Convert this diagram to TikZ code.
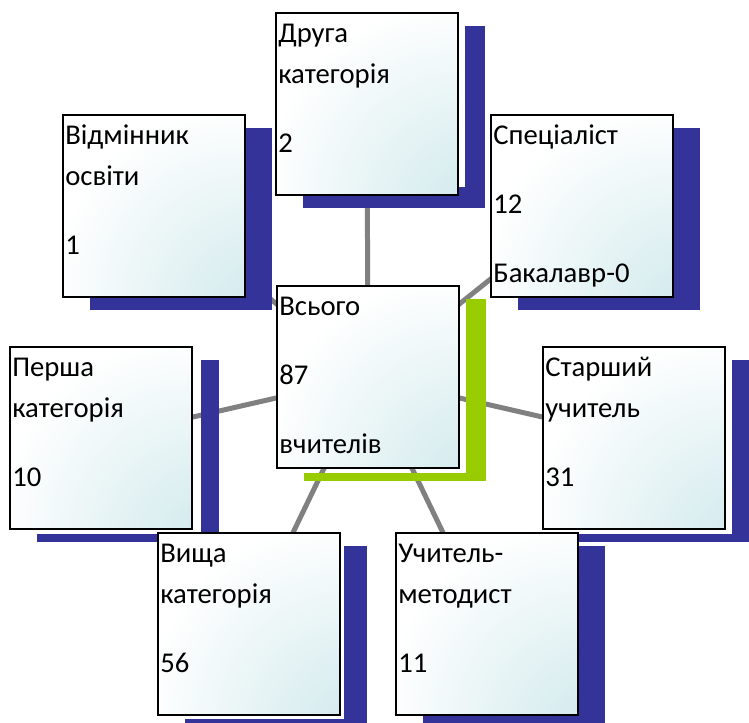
\documentclass[tikz,border=0pt]{standalone}
\usepackage{fontspec}
\setmainfont{Carlito}
\usetikzlibrary{calc}
\definecolor{shadowblue}{RGB}{51,51,153}
\definecolor{shadowgreen}{RGB}{153,204,0}
\definecolor{cardteal}{RGB}{186,223,227}
\definecolor{linkgray}{RGB}{128,128,128}
\pgfdeclareradialshading{cardshade}{\pgfpoint{40bp}{-40bp}}{color(0bp)=(cardteal); color(14bp)=(cardteal!60!white); color(48bp)=(white); color(100bp)=(white)}
\pgfdeclarelayer{lines}
\pgfdeclarelayer{shadows}
\pgfsetlayers{lines,shadows,main}
\newcommand{\cardtext}[1]{\parbox[t][134pt][t]{133pt}{\raggedright\rule{0pt}{20.5pt}#1}}
\begin{document}
\begin{tikzpicture}[x=0.75pt,y=-0.75pt,
 card/.style={draw=black,line width=1pt,inner sep=0pt,outer sep=0pt,minimum width=136.5pt,minimum height=136.5pt,anchor=north west,shade,shading=cardshade,font=\fontsize{21.5pt}{30.75pt}\selectfont},
 link/.style={draw=linkgray,line width=3.75pt}]
 \useasboundingbox (0,0) rectangle (749,722);
 \node[card] (druha) at (276,13) {\cardtext{Друга\\категорія\\[21pt]2}};
 \node[card] (vidm) at (63,115) {\cardtext{Відмінник\\освіти\\[21pt]1}};
 \node[card] (spec) at (491,115) {\cardtext{Спеціаліст\\[21pt]12\\[21pt]Бакалавр-0}};
 \node[card] (persha) at (10,347) {\cardtext{Перша\\категорія\\[21pt]10}};
 \node[card] (vyshcha) at (158,533) {\cardtext{Вища\\категорія\\[21pt]56}};
 \node[card] (metod) at (396,533) {\cardtext{Учитель-\\методист\\[21pt]11}};
 \node[card] (starsh) at (543,347) {\cardtext{Старший\\учитель\\[21pt]31}};
 \node[card] (vsogo) at (277,286) {\cardtext{Всього\\[21pt]87\\[21pt]вчителів}};
 \begin{pgfonlayer}{shadows}
 \fill[shadowblue] ([shift={(7,13)}]druha.north east) rectangle ([shift={(27,13)}]druha.south east);
 \fill[shadowblue] ([shift={(27,-8)}]druha.south west) rectangle ([shift={(27,13)}]druha.south east);
 \fill[shadowblue] ([shift={(27,13)}]vidm.north west) rectangle ([shift={(27,13)}]vidm.south east);
 \fill[shadowblue] ([shift={(27,13)}]spec.north west) rectangle ([shift={(27,13)}]spec.south east);
 \fill[shadowblue] ([shift={(9,13)}]persha.north east) rectangle ([shift={(27,13)}]persha.south east);
 \fill[shadowblue] ([shift={(27,5)}]persha.south west) rectangle ([shift={(27,13)}]persha.south east);
 \fill[shadowblue] ([shift={(4,13)}]vyshcha.north east) rectangle ([shift={(27,13)}]vyshcha.south east);
 \fill[shadowblue] ([shift={(27,4)}]vyshcha.south west) rectangle ([shift={(27,13)}]vyshcha.south east);
 \fill[shadowblue] ([shift={(27,13)}]metod.north west) rectangle ([shift={(27,13)}]metod.south east);
 \fill[shadowblue] ([shift={(7,13)}]starsh.north east) rectangle ([shift={(27,13)}]starsh.south east);
 \fill[shadowblue] ([shift={(27,5)}]starsh.south west) rectangle ([shift={(27,13)}]starsh.south east);
 \fill[shadowgreen] ([shift={(7,13)}]vsogo.north east) rectangle ([shift={(27,13)}]vsogo.south east);
 \fill[shadowgreen] ([shift={(27,5)}]vsogo.south west) rectangle ([shift={(27,13)}]vsogo.south east);
 \end{pgfonlayer}
 \begin{pgfonlayer}{lines}
 \draw[link] (vsogo.center) -- (druha.center);
 \draw[link] (vsogo.center) -- (vidm.center);
 \draw[link] (vsogo.center) -- (spec.center);
 \draw[link] (vsogo.center) -- (persha.center);
 \draw[link] (vsogo.center) -- (starsh.center);
 \draw[link] (vsogo.center) -- (vyshcha.center);
 \draw[link] (vsogo.center) -- (metod.center);
 \end{pgfonlayer}
\end{tikzpicture}
\end{document}
